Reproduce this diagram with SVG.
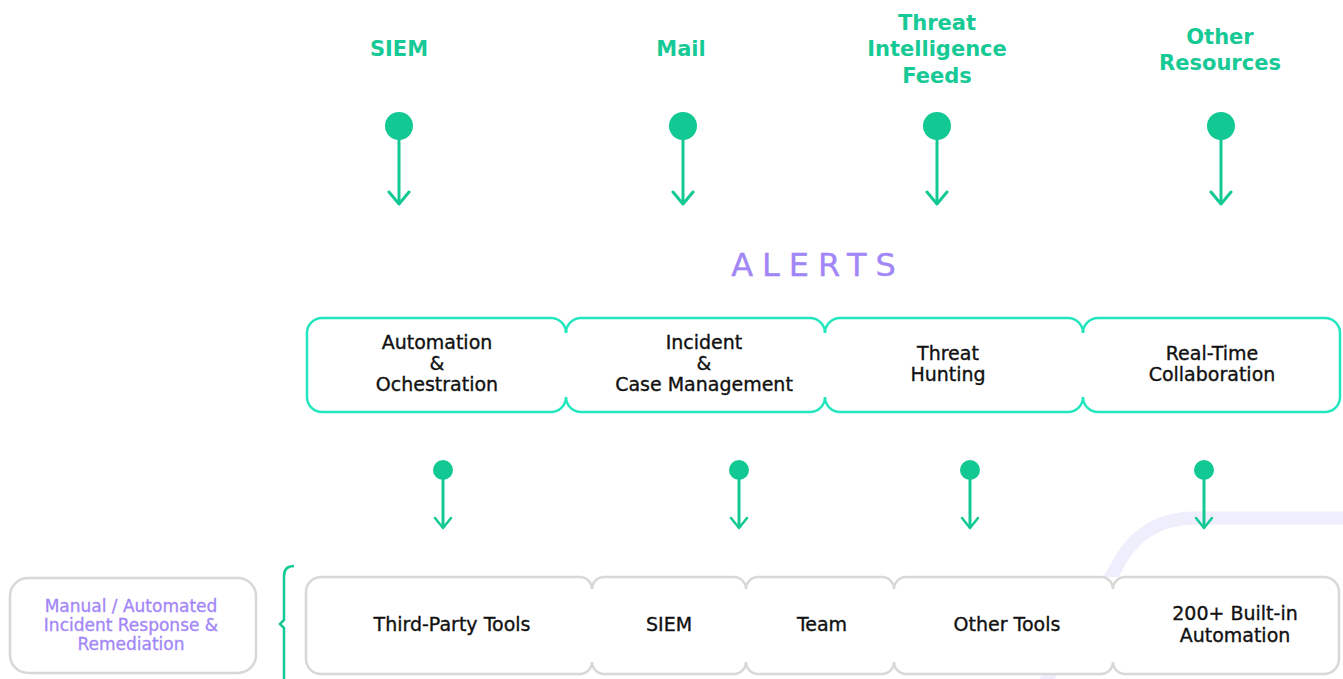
<svg xmlns="http://www.w3.org/2000/svg" width="1343" height="679" viewBox="0 0 1343 679">
<style>
.src{font-family:"DejaVu Sans","Liberation Sans",sans-serif;font-weight:bold;font-size:21px;fill:#16c995;text-anchor:middle}
.lbl{font-family:"DejaVu Sans","Liberation Sans",sans-serif;font-size:19px;fill:#111;stroke:#111;stroke-width:0.35;text-anchor:middle}
.purple{font-family:"DejaVu Sans","Liberation Sans",sans-serif;font-size:17px;fill:#a286f7;stroke:#a286f7;stroke-width:0.3;text-anchor:middle}
.alerts{font-family:"DejaVu Sans","Liberation Sans",sans-serif;font-size:32px;fill:#a086f6;stroke:#a086f6;stroke-width:0.4;letter-spacing:9px;text-anchor:middle}
.topbox{fill:none;stroke:#22e6bd;stroke-width:2.5}
.botbox{fill:none;stroke:#d8d8d8;stroke-width:2.5}
.dot{fill:#12c994}
.conn{stroke:#12c994;stroke-width:3;fill:none}
</style>
<defs>
<marker id="chev" viewBox="-14 -12 16 24" markerWidth="16" markerHeight="24" refX="0" refY="0" orient="auto" markerUnits="userSpaceOnUse">
<path d="M -12 -10 L 0 0 L -12 10" fill="none" stroke="#12c994" stroke-width="3" stroke-linecap="round" stroke-linejoin="round"/>
</marker>
<marker id="chev2" viewBox="-12 -10 14 20" markerWidth="14" markerHeight="20" refX="0" refY="0" orient="auto" markerUnits="userSpaceOnUse">
<path d="M -10 -8 L 0 0 L -10 8" fill="none" stroke="#12c994" stroke-width="2.5" stroke-linecap="round" stroke-linejoin="round"/>
</marker>
</defs>
<rect width="1343" height="679" fill="#fff"/>
<path id="deco" d="M 1343 518 H 1195 Q 1140 518 1115 570 L 1043 685" fill="none" stroke="#efeefc" stroke-width="13"/>

<g id="src-siem"><text class="src" x="399" y="56">SIEM</text></g>
<g id="src-mail"><text class="src" x="681" y="56">Mail</text></g>
<g id="src-ti"><text class="src" x="937" y="30">Threat</text><text class="src" x="937" y="56">Intelligence</text><text class="src" x="937" y="83">Feeds</text></g>
<g id="src-other"><text class="src" x="1220" y="44">Other</text><text class="src" x="1220" y="70">Resources</text></g>

<g id="alerts"><text class="alerts" x="818" y="276">ALERTS</text></g>

<g id="connectors">
<circle class="dot" cx="399" cy="126" r="14"/><line class="conn" x1="399" y1="126" x2="399" y2="204" marker-end="url(#chev)"/>
<circle class="dot" cx="683" cy="126" r="14"/><line class="conn" x1="683" y1="126" x2="683" y2="204" marker-end="url(#chev)"/>
<circle class="dot" cx="937" cy="126" r="14"/><line class="conn" x1="937" y1="126" x2="937" y2="204" marker-end="url(#chev)"/>
<circle class="dot" cx="1221" cy="126" r="14"/><line class="conn" x1="1221" y1="126" x2="1221" y2="204" marker-end="url(#chev)"/>
<circle class="dot" cx="443" cy="470" r="10"/><line class="conn" x1="443" y1="470" x2="443" y2="528" stroke-width="2.5" marker-end="url(#chev2)"/>
<circle class="dot" cx="739" cy="470" r="10"/><line class="conn" x1="739" y1="470" x2="739" y2="528" stroke-width="2.5" marker-end="url(#chev2)"/>
<circle class="dot" cx="970" cy="470" r="10"/><line class="conn" x1="970" y1="470" x2="970" y2="528" stroke-width="2.5" marker-end="url(#chev2)"/>
<circle class="dot" cx="1204" cy="470" r="10"/><line class="conn" x1="1204" y1="470" x2="1204" y2="528" stroke-width="2.5" marker-end="url(#chev2)"/>
<path d="M 294 566 Q 284 566 284 576 V 620 L 280 624 L 284 628 V 679" fill="none" stroke="#12c994" stroke-width="2.5"/>
</g>

<g id="box-automation">
<path class="topbox" d="M 322 318 H 551 A 15 15 0 0 1 566 333 M 566 397 A 15 15 0 0 1 551 412 H 322 A 15 15 0 0 1 307 397 V 333 A 15 15 0 0 1 322 318"/>
<text class="lbl" x="437" y="349">Automation</text><text class="lbl" x="437" y="370">&amp;</text><text class="lbl" x="437" y="391">Ochestration</text>
</g>
<g id="box-incident">
<path class="topbox" d="M 566 333 A 15 15 0 0 1 581 318 H 810 A 15 15 0 0 1 825 333 M 825 397 A 15 15 0 0 1 810 412 H 581 A 15 15 0 0 1 566 397"/>
<text class="lbl" x="704" y="349">Incident</text><text class="lbl" x="704" y="370">&amp;</text><text class="lbl" x="704" y="391">Case Management</text>
</g>
<g id="box-hunting">
<path class="topbox" d="M 825 333 A 15 15 0 0 1 840 318 H 1068 A 15 15 0 0 1 1083 333 M 1083 397 A 15 15 0 0 1 1068 412 H 840 A 15 15 0 0 1 825 397"/>
<text class="lbl" x="948" y="360">Threat</text><text class="lbl" x="948" y="381">Hunting</text>
</g>
<g id="box-collab">
<path class="topbox" d="M 1083 333 A 15 15 0 0 1 1098 318 H 1325 A 15 15 0 0 1 1340 333 V 397 A 15 15 0 0 1 1325 412 H 1098 A 15 15 0 0 1 1083 397"/>
<text class="lbl" x="1212" y="360">Real-Time</text><text class="lbl" x="1212" y="381">Collaboration</text>
</g>

<g id="box-manual">
<rect x="10" y="578" width="246" height="95" rx="18" fill="#fff" stroke="#d8d8d8" stroke-width="2.5"/>
<text class="purple" x="131" y="612">Manual / Automated</text><text class="purple" x="131" y="631">Incident Response &amp;</text><text class="purple" x="131" y="650">Remediation</text>
</g>

<rect x="306" y="577" width="1033" height="97" fill="#fff"/>
<g id="box-thirdparty">
<path class="botbox" d="M 321 577 H 580 A 12 12 0 0 1 592 589 M 592 662 A 12 12 0 0 1 580 674 H 321 A 15 15 0 0 1 306 659 V 592 A 15 15 0 0 1 321 577"/>
<text class="lbl" x="452" y="631">Third-Party Tools</text>
</g>
<g id="box-siem">
<path class="botbox" d="M 592 589 A 12 12 0 0 1 604 577 H 734 A 12 12 0 0 1 746 589 M 746 662 A 12 12 0 0 1 734 674 H 604 A 12 12 0 0 1 592 662"/>
<text class="lbl" x="669" y="631">SIEM</text>
</g>
<g id="box-team">
<path class="botbox" d="M 746 589 A 12 12 0 0 1 758 577 H 882 A 12 12 0 0 1 894 589 M 894 662 A 12 12 0 0 1 882 674 H 758 A 12 12 0 0 1 746 662"/>
<text class="lbl" x="822" y="631">Team</text>
</g>
<g id="box-othertools">
<path class="botbox" d="M 894 589 A 12 12 0 0 1 906 577 H 1101 A 12 12 0 0 1 1113 589 M 1113 662 A 12 12 0 0 1 1101 674 H 906 A 12 12 0 0 1 894 662"/>
<text class="lbl" x="1007" y="631">Other Tools</text>
</g>
<g id="box-builtin">
<path class="botbox" d="M 1113 589 A 12 12 0 0 1 1125 577 H 1324 A 15 15 0 0 1 1339 592 V 659 A 15 15 0 0 1 1324 674 H 1125 A 12 12 0 0 1 1113 662"/>
<text class="lbl" x="1235" y="620">200+ Built-in</text><text class="lbl" x="1235" y="642">Automation</text>
</g>
</svg>
